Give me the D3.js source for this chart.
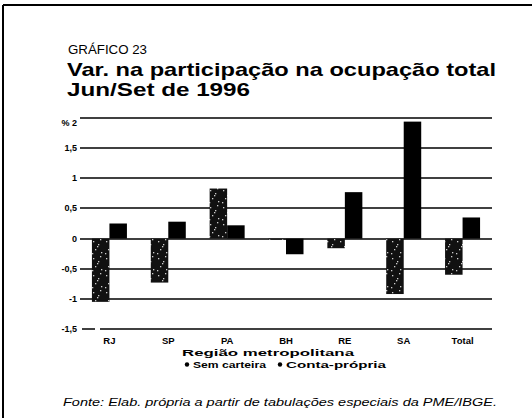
<!DOCTYPE html>
<html>
<head>
<meta charset="utf-8">
<script src="https://cdn.jsdelivr.net/npm/d3@7"></script>
<style>
  body { margin: 0; background: #fff; }
  text { font-family: "Liberation Sans", Arial, sans-serif; fill: #000; }
</style>
</head>
<body>
<div id="chart"></div>
<script>
let width = 532;
let height = 418;

// regions and series
let regions = ["RJ", "SP", "PA", "BH", "RE", "SA", "Total"];
let semCarteira = [-1.05, -0.73, 0.83, -0.01, -0.16, -0.92, -0.6];
let contaPropria = [0.25, 0.28, 0.22, -0.26, 0.77, 1.94, 0.35];
let yTicks = [2, 1.5, 1, 0.5, 0, -0.5, -1, -1.5];
let yTickLabels = ["% 2", "1,5", "1", "0,5", "0", "-0,5", "-1", "-1,5"];

let svg = d3.select("#chart").append("svg")
    .attr("width", width)
    .attr("height", height);

let defs = svg.append("defs");
// speckled texture for "Sem carteira"
let pat = defs.append("pattern")
    .attr("id", "speckle")
    .attr("patternUnits", "userSpaceOnUse")
    .attr("width", 13).attr("height", 17);
pat.append("rect").attr("width", 13).attr("height", 17).attr("fill", "#111");
[[2, 3], [7, 6], [4, 11], [10, 14], [9, 1], [1, 15], [6, 8]].forEach(p => {
    pat.append("rect").attr("x", p[0]).attr("y", p[1])
        .attr("width", 1.3).attr("height", 1.3).attr("fill", "#ccc");
});

// frame (top and left edges of the scanned box)
svg.append("line").attr("x1", 3).attr("x2", width).attr("y1", 5).attr("y2", 5)
    .attr("stroke", "#000").attr("stroke-width", 2);
svg.append("line").attr("x1", 3).attr("x2", 3).attr("y1", 5).attr("y2", height)
    .attr("stroke", "#000").attr("stroke-width", 2);

// titles
svg.append("text").attr("x", 68).attr("y", 54)
    .style("font-size", "13.5px")
    .attr("textLength", 79).attr("lengthAdjust", "spacingAndGlyphs")
    .text("GRÁFICO 23");
svg.append("text").attr("x", 67).attr("y", 75.5)
    .style("font-size", "18.5px").style("font-weight", "bold")
    .attr("textLength", 429).attr("lengthAdjust", "spacingAndGlyphs")
    .text("Var. na participação na ocupação total");
svg.append("text").attr("x", 67).attr("y", 96)
    .style("font-size", "18.5px").style("font-weight", "bold")
    .attr("textLength", 183).attr("lengthAdjust", "spacingAndGlyphs")
    .text("Jun/Set de 1996");

let x = d3.scaleBand().domain(regions).range([80, 492]);
let y = d3.scaleLinear().domain([-1.5, 2]).range([329, 118]);
let barW = 17.5;

// gridlines
let grid = svg.append("g");
yTicks.forEach((t, i) => {
    let yy = Math.round(y(t));
    if (t === -1.5) {
        grid.append("line").attr("x1", 82).attr("x2", 95)
            .attr("y1", yy).attr("y2", yy).attr("stroke", "#000").attr("stroke-width", 1.5);
        grid.append("line").attr("x1", 100).attr("x2", 492)
            .attr("y1", yy).attr("y2", yy).attr("stroke", "#000").attr("stroke-width", 1.5);
    } else {
        grid.append("line").attr("x1", 80).attr("x2", 492)
            .attr("y1", yy).attr("y2", yy).attr("stroke", "#000").attr("stroke-width", 1.5);
    }
    grid.append("text")
        .attr("x", 77).attr("y", yy + (t === 2 ? 5 : 0)).attr("dy", "0.35em")
        .attr("text-anchor", "end")
        .style("font-size", "9px").style("font-weight", "bold")
        .text(yTickLabels[i]);
});

// bars
let groups = svg.append("g");
regions.forEach((r, i) => {
    let cx = x(r) + x.bandwidth() / 2;
    let s = semCarteira[i], c = contaPropria[i];
    groups.append("rect")
        .attr("x", cx - barW).attr("width", barW)
        .attr("y", y(Math.max(0, s))).attr("height", Math.max(1, Math.abs(y(s) - y(0))))
        .attr("fill", "url(#speckle)");
    groups.append("rect")
        .attr("x", cx).attr("width", barW)
        .attr("y", y(Math.max(0, c))).attr("height", Math.abs(y(c) - y(0)))
        .attr("fill", "#000");
    groups.append("text")
        .attr("x", cx).attr("y", 344)
        .attr("text-anchor", "middle")
        .style("font-size", "9.5px").style("font-weight", "bold")
        .text(r);
});

svg.append("text").attr("x", 268).attr("y", 356)
    .attr("text-anchor", "middle")
    .style("font-size", "9.5px").style("font-weight", "bold")
    .attr("textLength", 172).attr("lengthAdjust", "spacingAndGlyphs")
    .text("Região metropolitana");

// legend
let legend = [["Sem carteira", 187, 73], ["Conta-própria", 280, 100]];
legend.forEach(l => {
    svg.append("circle").attr("cx", l[1]).attr("cy", 364.5).attr("r", 2.2).attr("fill", "#000");
    svg.append("text").attr("x", l[1] + 6).attr("y", 368)
        .style("font-size", "9.5px").style("font-weight", "bold")
        .attr("textLength", l[2]).attr("lengthAdjust", "spacingAndGlyphs")
        .text(l[0]);
});

svg.append("text").attr("x", 63).attr("y", 406)
    .style("font-size", "11.5px").style("font-style", "italic")
    .attr("textLength", 434).attr("lengthAdjust", "spacingAndGlyphs")
    .text("Fonte: Elab. própria a partir de tabulações especiais da PME/IBGE.");
</script>
</body>
</html>
